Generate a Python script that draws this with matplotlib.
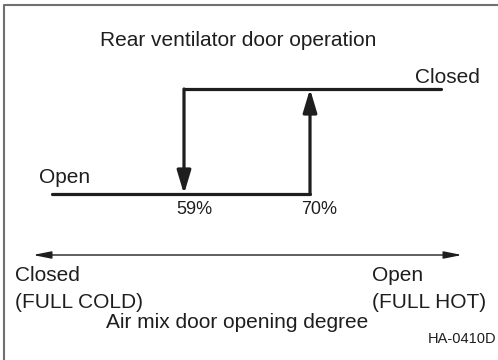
import numpy as np
import matplotlib
matplotlib.use('Agg')
from matplotlib import pyplot
from matplotlib.patches import FancyArrowPatch

# air-mix opening (%) at which the rear ventilator door switches
close_at_pct = 59   # door closes -> opens while the air mix is closing
open_at_pct = 70    # door opens -> closes while the air mix is opening
switch_labels = ['{}%'.format(close_at_pct), '{}%'.format(open_at_pct)]

# schematic extent of the hysteresis loop (air-mix %)
loop_start_pct = 47.5
loop_end_pct = 81.4

# door state levels
state_open = 0.0
state_closed = 1.0

title = 'Rear ventilator door operation'
state_labels = ['Open', 'Closed']
axis_left = ['Closed', '(FULL COLD)']
axis_right = ['Open', '(FULL HOT)']
axis_title = 'Air mix door opening degree'
figure_code = 'HA-0410D'

W, H = 498, 360
ink = '#1e1e1e'
pyplot.rcParams['font.family'] = ['Liberation Sans', 'DejaVu Sans']

fig = pyplot.figure(figsize=(W / 100.0, H / 100.0), dpi=100)
fig.patch.set_facecolor('white')
ax = fig.add_axes([0, 0, 1, 1])
ax.set_axis_off()
# schematic scale: 11 % of air-mix travel spans 126 px
px_per_pct = 126.0 / 11.0
ax.set_xlim(close_at_pct - 184 / px_per_pct, close_at_pct + (W - 184) / px_per_pct)
ax.set_ylim(-166 / 105.0, 194 / 105.0)


def fxy(x, y):
  """Converts pixel position (from top-left) to figure fraction."""
  return x / float(W), 1.0 - y / float(H)


def put(x, y, s, size=15, ha='left', **kw):
  fig.text(*fxy(x, y), s, fontsize=size, ha=ha, va='baseline',
           color=ink, **kw)


# frame around the diagram (top and left edges)
fig.add_artist(pyplot.Line2D([fxy(4, 0)[0], fxy(4, 0)[0], 1.0],
                             [0.0, fxy(0, 5)[1], fxy(0, 5)[1]],
                             color='#707070', linewidth=1.5))

lw = 2.3
ax.plot([loop_start_pct, open_at_pct], [state_open, state_open],
        color=ink, linewidth=lw, solid_capstyle='round')
ax.plot([close_at_pct, loop_end_pct], [state_closed, state_closed],
        color=ink, linewidth=lw, solid_capstyle='round')

arrow_kw = dict(arrowstyle='-|>,head_length=1.4,head_width=0.42',
                mutation_scale=10, color=ink, linewidth=lw,
                shrinkA=0, shrinkB=0, capstyle='round')
ax.add_patch(FancyArrowPatch((close_at_pct, state_closed),
                             (close_at_pct, state_open), **arrow_kw))
ax.add_patch(FancyArrowPatch((open_at_pct, state_open),
                             (open_at_pct, state_closed), **arrow_kw))

# air mix travel indicator
fig.add_artist(FancyArrowPatch(fxy(33, 255), fxy(462, 255),
                               transform=fig.transFigure,
                               arrowstyle='<|-|>,head_length=1.1,head_width=0.22',
                               mutation_scale=10, color=ink, linewidth=1.0,
                               shrinkA=0, shrinkB=0))

put(238, 46, title, ha='center')
put(480, 83, state_labels[1], ha='right')
put(39, 183, state_labels[0])
put(194, 214, switch_labels[0], size=13, ha='center')
put(319, 214, switch_labels[1], size=13, ha='center')

put(15, 281, axis_left[0])
put(15, 308, axis_left[1])
put(372, 281, axis_right[0])
put(372, 308, axis_right[1])
put(237, 328, axis_title, ha='center')
put(496, 343, figure_code, size=10.5, ha='right')

fig.savefig('out.png', dpi=100, facecolor='white')
